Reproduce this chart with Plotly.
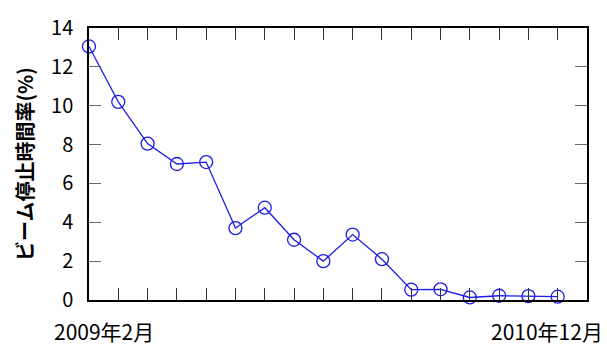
import plotly.graph_objects as go

# Monthly beam downtime ratio (%), one point per month
month_index = list(range(17))
downtime_pct = [13.05, 10.2, 8.05, 7.0, 7.1, 3.7, 4.75, 3.1, 2.0, 3.37, 2.1,
                0.53, 0.55, 0.13, 0.22, 0.2, 0.17]
y_ticks = [0, 2, 4, 6, 8, 10, 12, 14]
start_label = "2009年2月"
end_label = "2010年12月"
y_title = "ビーム停止時間率(%)"

FONT = "Noto Sans CJK JP"
BLUE = "#1c1ce8"

fig = go.Figure()
fig.add_trace(go.Scatter(
    x=month_index, y=downtime_pct,
    mode="lines+markers",
    line=dict(color=BLUE, width=1.3),
    marker=dict(symbol="circle-open", size=13, color=BLUE, line=dict(width=1.3, color=BLUE)),
    cliponaxis=False,
    showlegend=False,
))

fig.update_layout(
    width=607, height=346,
    margin=dict(l=89, r=20, t=20, b=46),
    paper_bgcolor="white", plot_bgcolor="white",
    font=dict(family=FONT, color="black", size=20),
    xaxis=dict(
        range=[0, 17], tickmode="linear", tick0=0, dtick=1,
        ticks="inside", ticklen=12, tickwidth=1, tickcolor="#333",
        showticklabels=False, showgrid=False, zeroline=False,
        showline=True, linecolor="black", linewidth=1.5, mirror="ticks",
    ),
    yaxis=dict(
        range=[0, 14], tickvals=y_ticks,
        ticks="inside", ticklen=12, tickwidth=1, tickcolor="#666",
        showgrid=False, zeroline=False,
        showline=True, linecolor="black", linewidth=1.5, mirror="ticks",
        tickfont=dict(size=20), ticklabelstandoff=10,
        title=dict(text=y_title, font=dict(size=20, weight="bold"), standoff=12),
    ),
    annotations=[
        dict(text=start_label, xref="paper", yref="paper",
             x=(103.5 - 89) / 498, y=-(332 - 300) / 280, xanchor="center", yanchor="middle",
             showarrow=False, font=dict(size=21)),
        dict(text=end_label, xref="paper", yref="paper",
             x=(605 - 89) / 498, y=-(332 - 300) / 280, xanchor="right", yanchor="middle",
             showarrow=False, font=dict(size=21)),
    ],
)

fig.write_html("out.html")
